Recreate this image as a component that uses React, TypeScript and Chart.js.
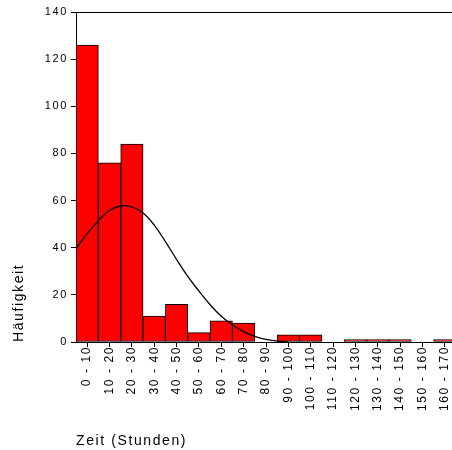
import React, { useEffect, useRef } from 'react';
import { Chart, registerables } from 'chart.js';

Chart.register(...registerables);

// ---- data ----
const categories = [
  '0 - 10', '10 - 20', '20 - 30', '30 - 40', '40 - 50', '50 - 60', '60 - 70', '70 - 80',
  '80 - 90', '90 - 100', '100 - 110', '110 - 120', '120 - 130', '130 - 140', '140 - 150',
  '150 - 160', '160 - 170',
];
const counts = [126, 76, 84, 11, 16, 4, 9, 8, 0, 3, 3, 0, 1, 1, 1, 0, 1];

// normal curve (hours -> frequency)
const curveHours = [0, 5, 10, 15, 20, 25, 30, 35, 40, 45, 50, 55, 60, 65, 70, 75, 80, 85, 90, 95];
const curveValues = [39.5, 46, 51.5, 55.8, 57.7, 57.3, 54.7, 49.6, 42.6, 35, 27.8, 21.6, 15.8, 10.9, 7.2, 4.4, 2.4, 1.1, 0.4, 0];

const yMin = 0;
const yMax = 140;
const yStep = 20;
const hoursMax = 170;

const yTitle = 'Häufigkeit';
const xTitle = 'Zeit (Stunden)';

const FONT = "'Liberation Sans', Arial, sans-serif";
const TEXT = '#000000';
const SPACING = '1.6px';

const framePlugin = {
  id: 'frame',
  beforeUpdate(chart: any) {
    chart.ctx.letterSpacing = SPACING;
  },
  beforeDraw(chart: any) {
    chart.ctx.letterSpacing = SPACING;
  },
  afterDraw(chart: any) {
    const { ctx, chartArea } = chart;
    ctx.save();
    ctx.strokeStyle = '#000';
    ctx.lineWidth = 1;
    ctx.beginPath();
    ctx.moveTo(chartArea.left, Math.round(chartArea.top) + 0.5);
    ctx.lineTo(chartArea.right, Math.round(chartArea.top) + 0.5);
    ctx.moveTo(Math.round(chartArea.right) - 0.5, chartArea.top);
    ctx.lineTo(Math.round(chartArea.right) - 0.5, chartArea.bottom);
    ctx.stroke();
    ctx.restore();
  },
};

export default function App() {
  const ref = useRef<HTMLCanvasElement | null>(null);

  useEffect(() => {
    document.documentElement.style.overflow = 'hidden';
    document.body.style.overflow = 'hidden';
    const canvas = ref.current;
    if (!canvas) return;
    const chart = new Chart(canvas, {
      type: 'bar',
      data: {
        labels: categories,
        datasets: [
          {
            type: 'line',
            label: 'Normal',
            data: curveHours.map((h, i) => ({ x: h, y: curveValues[i] })),
            xAxisID: 'xl',
            yAxisID: 'y',
            borderColor: '#000',
            borderWidth: 1.3,
            pointRadius: 0,
            tension: 0.4,
            fill: false,
            order: 0,
          } as any,
          {
            type: 'bar',
            label: 'Häufigkeit',
            data: counts.map((c) => (c === 0 ? null : c)),
            xAxisID: 'x',
            yAxisID: 'y',
            backgroundColor: '#ff0000',
            borderColor: '#000',
            borderWidth: 1,
            borderSkipped: false,
            grouped: false,
            categoryPercentage: 1,
            barPercentage: 1,
            order: 1,
          } as any,
        ],
      },
      options: {
        animation: false,
        responsive: false,
        devicePixelRatio: 1,
        layout: { padding: { top: 12, right: 4, bottom: 0, left: 0 } },
        plugins: {
          legend: { display: false },
          tooltip: { enabled: false },
        },
        scales: {
          x: {
            type: 'category',
            position: 'bottom',
            offset: true,
            grid: {
              display: true,
              offset: false,
              drawOnChartArea: false,
              drawTicks: true,
              tickLength: 5,
              color: '#000',
            },
            border: { display: true, color: '#000', width: 1 },
            ticks: {
              autoSkip: false,
              maxRotation: 90,
              minRotation: 90,
              padding: -1,
              color: TEXT,
              font: { family: FONT, size: 12 },
            },
            title: {
              display: true,
              text: xTitle,
              align: 'start',
              color: TEXT,
              font: { family: FONT, size: 14 },
              padding: { top: 0, bottom: 0 },
            },
            afterFit(scale: any) {
              scale.height = 108;
              scale.paddingLeft = 0;
              scale.paddingRight = 0;
            },
          },
          xl: {
            type: 'linear',
            display: false,
            min: 0,
            max: hoursMax,
            offset: false,
          },
          y: {
            type: 'linear',
            position: 'left',
            min: yMin,
            max: yMax,
            ticks: {
              stepSize: yStep,
              padding: 3,
              color: TEXT,
              font: { family: FONT, size: 11 },
            },
            grid: {
              display: true,
              drawOnChartArea: false,
              drawTicks: true,
              tickLength: 5,
              color: '#000',
            },
            border: { display: true, color: '#000', width: 1 },
            title: {
              display: true,
              text: yTitle,
              align: 'start',
              color: TEXT,
              font: { family: FONT, size: 14 },
              padding: { top: 11, bottom: 0 },
            },
            afterFit(scale: any) {
              scale.width = 76;
              scale.paddingTop = 0;
              scale.paddingBottom = 0;
            },
          },
        },
      } as any,
      plugins: [framePlugin],
    });
    return () => chart.destroy();
  }, []);

  return (
    <canvas
      ref={ref}
      width={460}
      height={450}
      style={{ position: 'fixed', left: 0, top: 0, width: 460, height: 450, display: 'block' }}
    />
  );
}
